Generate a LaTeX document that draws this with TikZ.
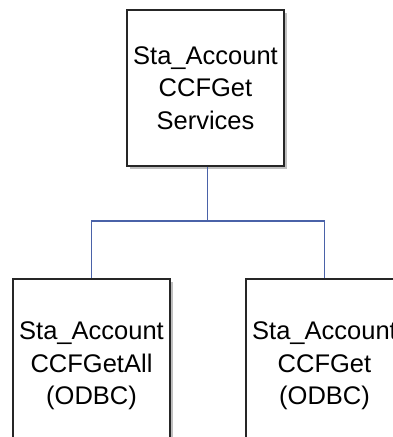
\documentclass[tikz,border=0pt]{standalone}
\usepackage{fontspec}
\setmainfont{Liberation Sans}
\usetikzlibrary{shadows}
\definecolor{linkblue}{HTML}{4A62A8}
\begin{document}
\begin{tikzpicture}[x=1pt,y=-1pt,
  boxnode/.style={draw=black!85,line width=1.3pt,fill=white,rectangle,
    minimum width=157pt,inner sep=0pt,align=center,
    font=\fontsize{25.5pt}{32.5pt}\selectfont,
    drop shadow={shadow xshift=2.5pt,shadow yshift=-2.5pt,opacity=0.25,fill=black}},
  link/.style={draw=linkblue,line width=1.3pt}]
\clip (0,0) rectangle (393,437);
\fill[white] (0,0) rectangle (393,437);
\node[boxnode,minimum height=156pt] (top) at (205.5,88) {Sta\_Account\\CCFGet\\Services};
\node[boxnode,minimum height=174pt] (bl) at (91.5,366) {Sta\_Account\\CCFGetAll\\(ODBC)};
\node[boxnode,minimum height=174pt] (br) at (324.5,366) {Sta\_Account\\CCFGet\\(ODBC)};
\coordinate (j) at (207.5,221);
\draw[link] (j |- top.south) -- (j) -| (bl.north);
\draw[link] (j) -| (br.north);
\end{tikzpicture}
\end{document}
